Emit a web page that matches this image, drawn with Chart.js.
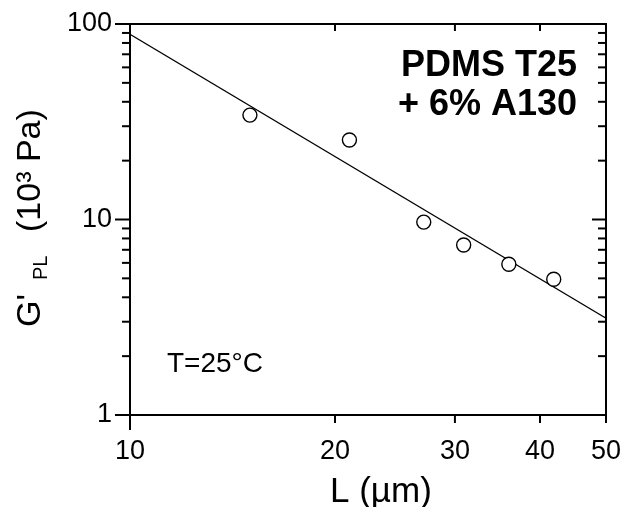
<!DOCTYPE html>
<html>
<head>
<meta charset="utf-8">
<script src="https://cdn.jsdelivr.net/npm/chart.js@4/dist/chart.umd.min.js"></script>
<style>
  html, body { margin: 0; padding: 0; background: #fff; }
  #wrap { width: 629px; height: 507px; }
</style>
</head>
<body>
<div id="wrap"><canvas id="gplChart" width="629" height="507"></canvas></div>
<script>
// measured points, L in µm, G'_PL in 10^3 Pa
const lengths = [15.0, 21.0, 27.0, 30.9, 36.0, 41.9];
const modulus = [34.2, 25.5, 9.7, 7.4, 5.9, 4.95];
// power-law fit, drawn between its two end values
const fitX = [10, 50];
const fitY = [88.6, 3.13];

const xTicks = [10, 20, 30, 40, 50];
const yTicks = [1, 10, 100];
const yMinor = [2, 3, 4, 5, 6, 7, 8, 9, 20, 30, 40, 50, 60, 70, 80, 90];

const FONT = "'Liberation Sans', Arial, sans-serif";

// frame, ticks and the free text
const framePlugin = {
    id: 'frame',
    afterDraw(chart) {
        const ctx = chart.ctx;
        const xs = chart.scales.x, ys = chart.scales.y;
        const a = chart.chartArea;
        ctx.save();
        ctx.strokeStyle = '#000';
        ctx.lineWidth = 2;
        ctx.lineCap = 'butt';

        function seg(x1, y1, x2, y2) {
            ctx.beginPath();
            ctx.moveTo(x1, y1);
            ctx.lineTo(x2, y2);
            ctx.stroke();
        }

        // box
        seg(a.left, a.top - 1, a.left, a.bottom + 15);
        seg(a.left - 1, a.bottom, a.right + 1, a.bottom);
        seg(a.left - 1, a.top, a.right + 1, a.top);
        seg(a.right, a.top - 1, a.right, a.bottom + 8);

        // y ticks
        yTicks.forEach(v => {
            const y = ys.getPixelForValue(v);
            seg(a.left - 15, y, a.left, y);
            seg(a.right - 14, y, a.right, y);
        });
        yMinor.forEach(v => {
            const y = ys.getPixelForValue(v);
            seg(a.left - 8, y, a.left, y);
            seg(a.right - 8, y, a.right, y);
        });

        // x ticks
        xTicks.slice(1, 4).forEach(v => {
            const x = xs.getPixelForValue(v);
            seg(x, a.bottom, x, a.bottom + 8);
            seg(x, a.top, x, a.top + 7);
        });

        // annotations
        ctx.fillStyle = '#000';
        ctx.textBaseline = 'alphabetic';
        ctx.font = 'bold 36px ' + FONT;
        ctx.textAlign = 'right';
        ctx.fillText('PDMS T25', 577, 76);
        ctx.fillText('+ 6% A130', 577, 115);

        ctx.font = '28px ' + FONT;
        ctx.textAlign = 'left';
        ctx.fillText('T=25°C', 167, 372);

        // x title
        ctx.font = '35px ' + FONT;
        ctx.fillText('L (µm)', 330, 502);

        // y title, rotated
        ctx.translate(40, 327);
        ctx.rotate(-Math.PI / 2);
        ctx.font = '34px ' + FONT;
        ctx.fillText("G'", 0, 0);
        ctx.font = '20px ' + FONT;
        ctx.fillText('PL', 47, 7);
        ctx.font = '34px ' + FONT;
        ctx.fillText('(10³ Pa)', 95, 0);
        ctx.restore();
    }
};

const ctx = document.getElementById('gplChart').getContext('2d');
const chart = new Chart(ctx, {
    type: 'scatter',
    data: {
        datasets: [{
            label: 'data',
            data: lengths.map((l, i) => ({ x: l, y: modulus[i] })),
            showLine: false,
            pointStyle: 'circle',
            pointRadius: 7,
            pointBorderWidth: 1.4,
            pointBorderColor: '#000',
            pointBackgroundColor: '#fff',
            order: 0
        }, {
            label: 'fit',
            data: fitX.map((x, i) => ({ x: x, y: fitY[i] })),
            showLine: true,
            borderColor: '#000',
            borderWidth: 1.2,
            pointRadius: 0,
            order: 1
        }]
    },
    options: {
        responsive: false,
        animation: false,
        events: [],
        layout: { padding: { top: 24, right: 23, left: 0, bottom: 0 } },
        plugins: {
            legend: { display: false },
            tooltip: { enabled: false }
        },
        scales: {
            x: {
                type: 'logarithmic',
                min: 10,
                max: 50,
                border: { display: false },
                grid: { display: false, drawTicks: false },
                afterBuildTicks: s => { s.ticks = xTicks.map(v => ({ value: v })); },
                afterFit: s => {
                    s.height = 92;
                    s.paddingLeft = 0;
                    s.paddingRight = 0;
                },
                ticks: {
                    color: '#000',
                    padding: 20,
                    maxRotation: 0,
                    autoSkip: false,
                    font: { family: FONT, size: 27 },
                    callback: v => String(v)
                }
            },
            y: {
                type: 'logarithmic',
                min: 1,
                max: 100,
                border: { display: false },
                grid: { display: false, drawTicks: false },
                afterBuildTicks: s => { s.ticks = yTicks.map(v => ({ value: v })); },
                afterFit: s => {
                    s.width = 130;
                    s.paddingTop = 0;
                    s.paddingBottom = 0;
                },
                ticks: {
                    color: '#000',
                    padding: 18,
                    autoSkip: false,
                    font: { family: FONT, size: 27 },
                    callback: v => String(v)
                }
            }
        }
    },
    plugins: [framePlugin]
});
</script>
</body>
</html>
